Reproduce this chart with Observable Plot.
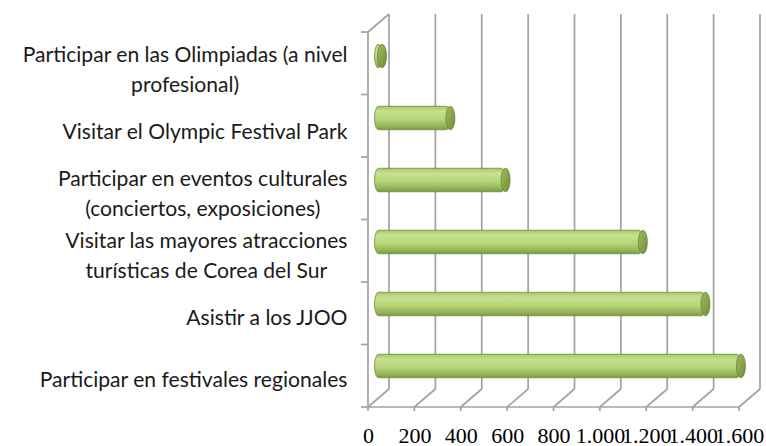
<!DOCTYPE html>
<html>
<head>
<meta charset="utf-8">
<script src="https://cdn.jsdelivr.net/npm/d3@7"></script>
<script src="https://cdn.jsdelivr.net/npm/@observablehq/plot@0.6"></script>
<style>
  html, body { margin: 0; padding: 0; background: #fff; }
</style>
</head>
<body>
<div id="chart"></div>
<script>
// ---- data ----
const categories = [
  "Participar en las Olimpiadas (a nivel\nprofesional)",
  "Visitar el Olympic Festival Park",
  "Participar en eventos culturales\n(conciertos, exposiciones)",
  "Visitar las mayores atracciones\nturísticas de Corea del Sur",
  "Asistir a los JJOO",
  "Participar en festivales regionales"
];
const values = [15, 310, 548, 1140, 1410, 1563];
const tickValues = [0, 200, 400, 600, 800, 1000, 1200, 1400, 1600];

const data = categories.map((c, i) => ({cat: c, value: values[i]}));
const locale = d3.formatLocale({decimal: ",", thousands: ".", grouping: [3], currency: ["", "€"]});
const fmt = locale.format(",d");

// ---- style / layout ----
const W = 766, H = 446;
const DX = 21, DY = -18;           // 3D depth offset (back wall)
const MX = 10.5, MY = -9;          // bars sit at mid-depth
const GRID = "#a2a2a2";
const labelFont = "Lato";
const ctx = document.createElement("canvas").getContext("2d");
ctx.font = `100px ${labelFont}`;
const labelSize = Math.round(100 * 308 / ctx.measureText("Participar en festivales regionales").width * 10) / 10;

function frame(index, scales, values, dims) {
  const x = scales.x;
  const x0 = dims.marginLeft;
  const y0 = dims.marginTop, y1 = dims.height - dims.marginBottom;
  const g = d3.create("svg:g");
  const defs = g.append("defs");
  const bg = defs.append("linearGradient").attr("id", "barGrad").attr("x1", 0).attr("y1", 0).attr("x2", 0).attr("y2", 1);
  [[0, "#a6c768"], [0.22, "#c6e18f"], [0.55, "#b8d67a"], [0.85, "#94b457"], [1, "#7c9a44"]]
    .forEach(([o, c]) => bg.append("stop").attr("offset", o).attr("stop-color", c));
  const cg = defs.append("linearGradient").attr("id", "capGrad").attr("x1", 0).attr("y1", 0).attr("x2", 1).attr("y2", 1);
  [[0, "#9dbc5e"], [0.5, "#87a64b"], [1, "#6f8c3a"]]
    .forEach(([o, c]) => cg.append("stop").attr("offset", o).attr("stop-color", c));
  const lines = g.append("g").attr("stroke", GRID).attr("stroke-width", 1.7).attr("fill", "none");
  const L = (a, b, c, d) => lines.append("line").attr("x1", a).attr("y1", b).attr("x2", c).attr("y2", d);
  for (const t of tickValues) {
    const px = x(t);
    L(px + DX, y0 + DY, px + DX, y1 + DY);       // back wall gridline
    L(px, y1, px + DX, y1 + DY);                 // floor diagonal
    L(px, y1, px, y1 + 4);                       // bottom tick
  }
  L(x0, y0, x0, y1);                             // front left axis
  L(x0, y0, x0 + DX, y0 + DY);                   // left wall top
  L(x0, y1, x(tickValues[tickValues.length - 1]), y1); // front bottom axis
  const step = (y1 - y0) / categories.length;
  for (let i = 0; i <= categories.length; ++i) L(x0 - 7, y0 + i * step, x0, y0 + i * step);
  return g.node();
}

const bandStep = (407 - 32) / categories.length;
const barH = 24;
const inset = (bandStep - barH) / 2;

const plot = Plot.plot({
  width: W,
  height: H,
  marginLeft: 368,
  marginRight: 27,
  marginTop: 32,
  marginBottom: 39,
  style: {background: "#fff", color: "#000", overflow: "visible"},
  x: {domain: [0, 1600], axis: null},
  y: {domain: categories, padding: 0, axis: null},
  marks: [
    frame,
    Plot.barX(data, {
      x1: () => 0, x2: "value", y: "cat",
      insetTop: inset, insetBottom: inset, insetLeft: -4,
      dx: MX, dy: MY, rx: 4, ry: barH / 2,
      fill: "url(#barGrad)", stroke: "#6f8d3a", strokeWidth: 0.8
    }),
    Plot.barX(data, {
      x1: "value", x2: "value", y: "cat",
      insetTop: inset, insetBottom: inset, insetLeft: -4.5, insetRight: -4.5,
      dx: MX, dy: MY, rx: 4.5, ry: barH / 2,
      fill: "url(#capGrad)", stroke: "#6a8737", strokeWidth: 0.8
    }),
    Plot.text(data, {
      x: () => 0, y: "cat", text: "cat",
      textAnchor: "end", dx: -21, dy: 2,
      fontFamily: labelFont, fontSize: labelSize, lineHeight: 1.42,
      fill: "#1a1a1a"
    }),
    // x tick labels (bottom axis)
    Plot.text(tickValues, {
      x: d => d, text: d => fmt(d),
      frameAnchor: "bottom", lineAnchor: "middle", dy: 28,
      fontFamily: "Liberation Serif", fontSize: 22, fill: "#000"
    })
  ]
});

document.getElementById("chart").appendChild(plot);

// center the lines of multi-line labels under the longest line (right-aligned block)
plot.querySelectorAll("text").forEach(t => {
  const spans = [...t.querySelectorAll("tspan")];
  if (spans.length < 2) return;
  const ws = spans.map(s => s.getComputedTextLength());
  const m = Math.max(...ws);
  t.setAttribute("text-anchor", "middle");
  spans.forEach(s => s.setAttribute("x", -m / 2));
});
</script>
</body>
</html>
